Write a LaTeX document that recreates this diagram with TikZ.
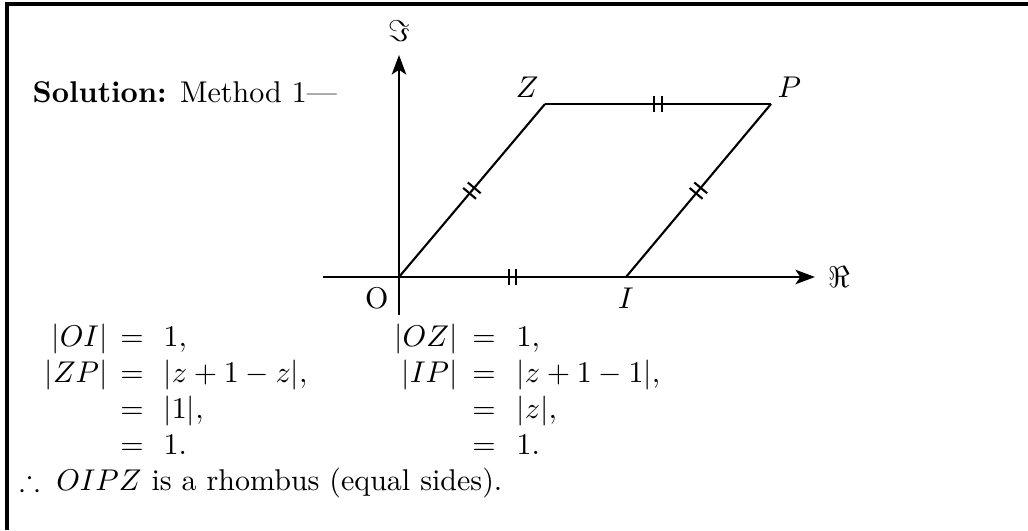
\documentclass[tikz,border=0pt]{standalone}
\usepackage{amsmath,amssymb}
\usetikzlibrary{arrows.meta,decorations.markings}
\begin{document}
\begin{tikzpicture}[x=0.3333pt,y=-0.3333pt,
  axis/.style={line width=0.9pt,-{Stealth[length=6.5pt,width=4.8pt,inset=1.6pt]}},
  side/.style={line width=0.7pt},
  ticks/.style={decoration={markings,mark=at position 0.5 with {
     \draw[line width=0.7pt] (-1.2pt,-2.8pt) -- (-1.2pt,2.8pt);
     \draw[line width=0.7pt] (1.2pt,-2.8pt) -- (1.2pt,2.8pt);}},postaction={decorate}},
  txt/.style={inner sep=0pt,anchor=base west},
  lhs/.style={inner sep=0pt,anchor=base east},
  eqs/.style={inner sep=0pt,anchor=base}]
\useasboundingbox (0,0) rectangle (1028,530);
% frame
\draw[line width=1.3pt] (7,530) -- (7,4) -- (1028,4);
% heading
\node[txt] (sol) at (32,102) {\textbf{Solution:} Method 1---};
% axes
\coordinate (xs) at (323,277);
\coordinate (xe) at (815,277);
\coordinate (ys) at (399,315);
\coordinate (ye) at (399,55);
\draw[axis] (xs) -- (xe) node[right,inner sep=4pt] (re) {$\Re$};
\draw[axis] (ys) -- (ye) node[above,inner sep=4pt] (im) {$\Im$};
% rhombus
\coordinate (O) at (399,277);
\coordinate (I) at (626,277);
\coordinate (Z) at (545,104);
\coordinate (P) at (771,104);
\draw[side,ticks] (O) -- (I);
\draw[side,ticks] (O) -- (Z);
\draw[side,ticks] (Z) -- (P);
\draw[side,ticks] (I) -- (P);
\node[below left] (lO) at (O) {O};
\node[below] (lI) at (I) {$I$};
\node[above left,inner sep=2pt] (lZ) at (Z) {$Z$};
\node[above right,inner sep=2pt] (lP) at (P) {$P$};
% equations, left block
\node[lhs] (a1) at (108,346) {$|OI|$};
\node[eqs] (e1) at (132,346) {$=$};
\node[txt] (r1) at (163,346) {$1,$};
\node[lhs] (a2) at (108,382) {$|ZP|$};
\node[eqs] (e2) at (132,382) {$=$};
\node[txt] (r2) at (163,382) {$|z+1-z|,$};
\node[eqs] (e3) at (132,418) {$=$};
\node[txt] (r3) at (163,418) {$|1|,$};
\node[eqs] (e4) at (132,454) {$=$};
\node[txt] (r4) at (163,454) {$1.$};
% right block
\node[lhs] (b1) at (458,346) {$|OZ|$};
\node[eqs] (f1) at (484,346) {$=$};
\node[txt] (s1) at (516,346) {$1,$};
\node[lhs] (b2) at (458,382) {$|IP|$};
\node[eqs] (f2) at (484,382) {$=$};
\node[txt] (s2) at (516,382) {$|z+1-1|,$};
\node[eqs] (f3) at (484,418) {$=$};
\node[txt] (s3) at (516,418) {$|z|,$};
\node[eqs] (f4) at (484,454) {$=$};
\node[txt] (s4) at (516,454) {$1.$};
% conclusion
\node[txt] (c) at (19,490) {$\therefore\; OIPZ$ is a rhombus (equal sides).};
\end{tikzpicture}
\end{document}
